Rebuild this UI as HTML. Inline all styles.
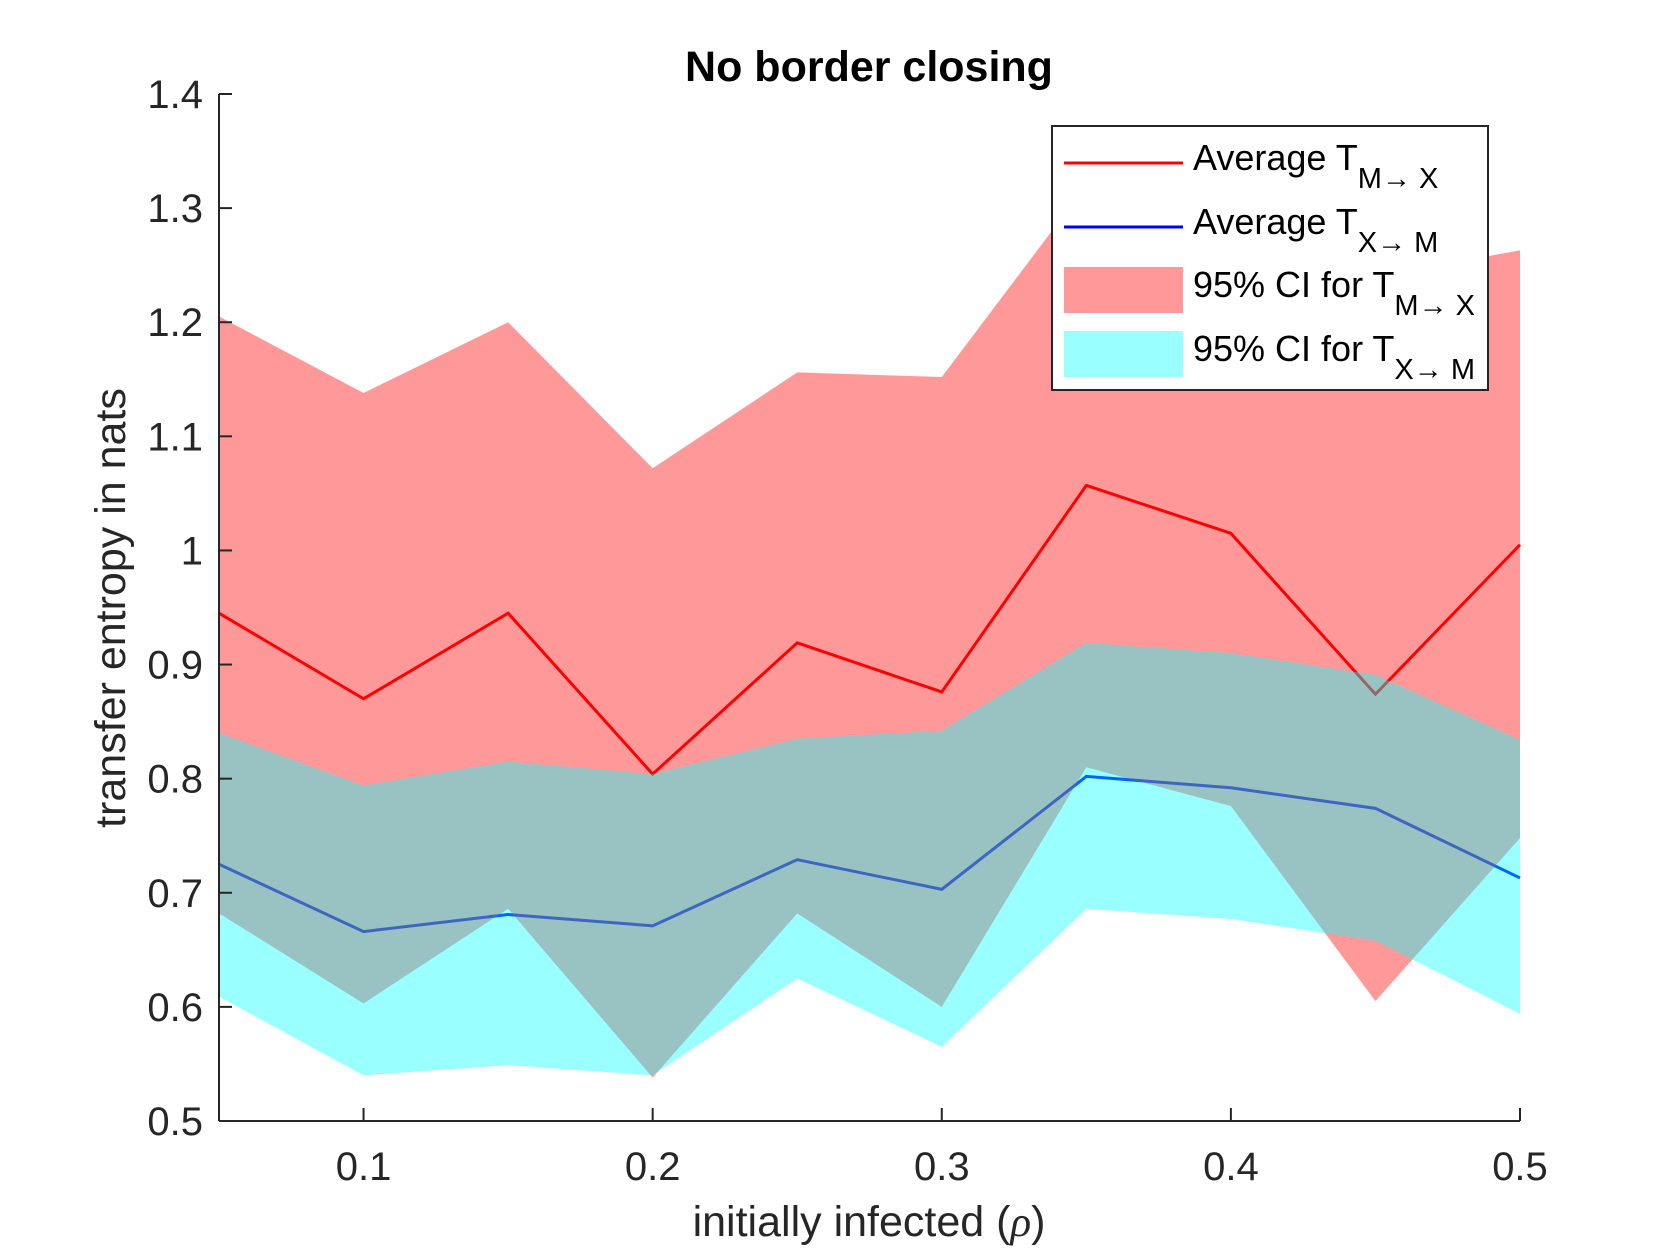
<!DOCTYPE html>
<html><head><meta charset="utf-8"><style>
html,body{margin:0;padding:0;background:#fff;}
svg{display:block;font-family:"Liberation Sans",Arial,sans-serif;}
</style></head><body>
<svg id="chart" width="1680" height="1260" viewBox="0 0 1680 1260" xmlns="http://www.w3.org/2000/svg">
<rect width="1680" height="1260" fill="#fff"/>
<g id="marks"></g>
<g id="axes"></g>
<text x="869" y="81" text-anchor="middle" font-size="43" font-weight="bold" fill="#000">No border closing</text>
<text x="869" y="1236" text-anchor="middle" font-size="43" fill="#262626">initially infected (<tspan font-family="Liberation Serif" font-style="italic">ρ</tspan>)</text>
<text transform="translate(125,608) rotate(-90)" text-anchor="middle" font-size="43" fill="#262626">transfer entropy in nats</text>
<g>
<rect x="1052" y="126" width="436" height="264" fill="#fff" stroke="#262626" stroke-width="2"/>
<line x1="1064" y1="163" x2="1183" y2="163" stroke="#f00" stroke-width="3"/>
<text x="1193" y="170" font-size="36" fill="#000">Average T<tspan font-size="29" dy="18">M→ X</tspan></text>
<line x1="1064" y1="227" x2="1183" y2="227" stroke="#00f" stroke-width="3"/>
<text x="1193" y="234" font-size="36" fill="#000">Average T<tspan font-size="29" dy="18">X→ M</tspan></text>
<rect x="1064" y="267" width="119" height="46" fill="#ff9999"/>
<text x="1193" y="297" font-size="36" fill="#000">95% CI for T<tspan font-size="29" dy="18">M→ X</tspan></text>
<rect x="1064" y="331" width="119" height="46" fill="#99ffff"/>
<text x="1193" y="361" font-size="36" fill="#000">95% CI for T<tspan font-size="29" dy="18">X→ M</tspan></text>
</g>
</svg>
<script>
const xValues = [0.05,0.1,0.15,0.2,0.25,0.3,0.35,0.4,0.45,0.5];
const meanMX = [0.945,0.870,0.945,0.804,0.919,0.876,1.057,1.015,0.874,1.005];
const upperMX = [1.205,1.138,1.200,1.072,1.156,1.152,1.320,1.300,1.240,1.263];
const lowerMX = [0.682,0.603,0.686,0.538,0.682,0.600,0.810,0.776,0.605,0.748];
const meanXM = [0.725,0.666,0.681,0.671,0.729,0.703,0.802,0.792,0.774,0.713];
const upperXM = [0.840,0.794,0.815,0.804,0.835,0.842,0.919,0.910,0.891,0.834];
const lowerXM = [0.609,0.540,0.549,0.540,0.625,0.565,0.686,0.677,0.658,0.594];
const xTicks = [0.1,0.2,0.3,0.4,0.5];
const xTickLabels = ["0.1","0.2","0.3","0.4","0.5"];
const yTicks = [0.5,0.6,0.7,0.8,0.9,1.0,1.1,1.2,1.3,1.4];
const yTickLabels = ["0.5","0.6","0.7","0.8","0.9","1","1.1","1.2","1.3","1.4"];

const L=219,R=1520,T=94,B=1121;
const xs = v => L + (v-0.05)/(0.5-0.05)*(R-L);
const ys = v => B - (v-0.5)/(1.4-0.5)*(B-T);
const NS="http://www.w3.org/2000/svg";
const marks=document.getElementById('marks'), axes=document.getElementById('axes');
function mk(tag,attrs,parent){const e=document.createElementNS(NS,tag);for(const k in attrs)e.setAttribute(k,attrs[k]);parent.appendChild(e);return e;}
function linePts(arr){return xValues.map((x,i)=>xs(x)+','+ys(arr[i])).join(' ');}
function bandPts(lo,hi){const a=xValues.map((x,i)=>xs(x)+','+ys(hi[i]));const b=xValues.map((x,i)=>xs(x)+','+ys(lo[i])).reverse();return a.concat(b).join(' ');}

let l1=mk('polyline',{points:linePts(meanMX),fill:'none',stroke:'#f00','stroke-width':3},marks);


let l2=mk('polyline',{points:linePts(meanXM),fill:'none',stroke:'#00f','stroke-width':3},marks);


let b1=mk('polygon',{points:bandPts(lowerMX,upperMX),fill:'#f00','fill-opacity':0.4},marks);


let b2=mk('polygon',{points:bandPts(lowerXM,upperXM),fill:'#0ff','fill-opacity':0.4},marks);



let ya=mk('line',{x1:L,y1:T,x2:L,y2:B,stroke:'#262626','stroke-width':2},axes);


let xa=mk('line',{x1:L,y1:B,x2:R,y2:B,stroke:'#262626','stroke-width':2},axes);


yTicks.forEach((v,i)=>{
  const y=ys(v);
  let t=mk('line',{x1:L,y1:y,x2:L+13,y2:y,stroke:'#262626','stroke-width':2},axes);
  
  
  let tx=mk('text',{x:203,y:y+14,'text-anchor':'end','font-size':40,fill:'#262626'},axes);
  tx.textContent=yTickLabels[i];
  
  
});
xTicks.forEach((v,i)=>{
  const x=xs(v);
  let t=mk('line',{x1:x,y1:B,x2:x,y2:B-13,stroke:'#262626','stroke-width':2},axes);
  
  
  let tx=mk('text',{x:x,y:1180,'text-anchor':'middle','font-size':40,fill:'#262626'},axes);
  tx.textContent=xTickLabels[i];
  
  
});
</script>
</body></html>
